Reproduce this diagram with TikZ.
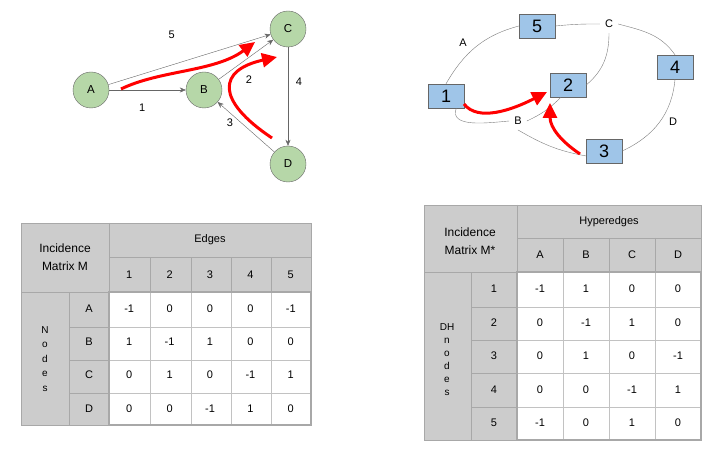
\documentclass[tikz,border=0pt]{standalone}
\usepackage{fontspec}
\setmainfont{Liberation Sans}
\usetikzlibrary{arrows.meta}

\definecolor{nodegreen}{HTML}{B6D7A8}
\definecolor{boxblue}{HTML}{9FC5E8}
\definecolor{edgegray}{HTML}{666666}
\definecolor{cellgray}{HTML}{CCCCCC}
\definecolor{gridgray}{HTML}{A8A8A8}

\tikzset{
  vertex/.style={circle, draw=edgegray, fill=nodegreen, minimum size=36pt, inner sep=0pt, font=\fontsize{11.5}{13}\selectfont},
  dhbox/.style={rectangle, draw=edgegray, fill=boxblue, minimum width=36pt, minimum height=24pt, inner sep=0pt, font=\fontsize{18}{20}\selectfont},
  edge/.style={draw=edgegray, -{Stealth[length=6pt,width=5pt]}},
  hyper/.style={draw=edgegray!85},
  flow/.style={red, line width=3pt, -{Triangle[length=15pt,width=14pt]}},
  lbl/.style={font=\fontsize{11}{13}\selectfont, inner sep=1pt},
  hlbl/.style={lbl, inner sep=5pt},
  cell/.style={font=\fontsize{11}{13}\selectfont, inner sep=0pt},
}

\begin{document}
\begin{tikzpicture}[x=1pt, y=-1pt]
  \useasboundingbox[fill=white] (0,0) rectangle (722,462);

  % Directed graph
  \node[vertex] (A) at (91,90) {A};
  \node[vertex] (B) at (204,90) {B};
  \node[vertex] (C) at (288,29) {C};
  \node[vertex] (D) at (288,164) {D};

  \draw[edge] (A) to node[lbl, pos=0.43, shift={(0,18)}] {1} (B);
  \draw[edge] (A) to node[lbl, pos=0.39, shift={(0,-30)}] {5} (C);
  \draw[edge] (B) to node[lbl, pos=0.5, shift={(3,20)}] {2} (C);
  \draw[edge] (C) to node[lbl, pos=0.35, shift={(11,0)}] {4} (D);
  \draw[edge] (D) to node[lbl, pos=0.5, shift={(-16,-4)}] {3} (B);

  % Paths through the graph
  \coordinate (pA) at (121,89);
  \coordinate (qA) at (255,42);
  \coordinate (pD) at (272,138);
  \coordinate (qD) at (277,57);
  \draw[flow] (pA) .. controls (160,70) and (215,72) .. (qA);
  \draw[flow] (pD) .. controls (215,100) and (218,70) .. (qD);

  % Dual hypergraph
  \node[dhbox] (h1) at (446,96) {1};
  \node[dhbox] (h5) at (537,26) {5};
  \node[dhbox] (h2) at (568,85) {2};
  \node[dhbox] (h4) at (675,67) {4};
  \node[dhbox] (h3) at (604,151) {3};

  \node[lbl] (eA) at (463,43) {A};
  \node[hlbl] (eB) at (518,121) {B};
  \node[hlbl] (eC) at (609,24) {C};
  \node[lbl] (eD) at (673,122) {D};

  \draw[hyper] (h1.north) to[out=60, in=195] (h5.west);
  \draw[hyper] (h5.east) to[bend left=3] (eC.west);
  \draw[hyper] (eC.east) to[out=-15, in=125] (h4.north);
  \draw[hyper] (eC.south) to[out=-90, in=40] (h2.east);
  \draw[hyper] (h1.-50) to[out=-110, in=185] (eB.west);
  \draw[hyper] (eB.east) to[bend right=10] (h2.-120);
  \draw[hyper] (eB.south) to[out=-30, in=170] (h3.195);
  \draw[hyper] (h4.south) to[out=-95, in=25] (h3.east);

  \coordinate (p1) at (464,104);
  \coordinate (q1) at (547,92);
  \coordinate (p3) at (580,154);
  \coordinate (q3) at (550,103);
  \draw[flow] (p1) .. controls (478,122) and (512,110) .. (q1);
  \draw[flow] (p3) .. controls (562,142) and (550,128) .. (q3);

  % Incidence matrix M
  \fill[cellgray] (21,223) rectangle (311,292);
  \fill[cellgray] (21,292) rectangle (109,425);
  \begin{scope}[gridgray]
    \draw (109,257) -- (311,257);
    \draw (21,292) -- (109,292);
    \foreach \y in {327,360,393} \draw (69,\y) -- (109,\y);
    \draw (69,292) -- (69,425);
    \draw (109,223) -- (109,425);
    \foreach \x in {150,191,231,271} \draw (\x,257) -- (\x,292);
  \end{scope}
  \draw[gridgray!70] \foreach \y in {327,360,393} {(109,\y) -- (311,\y)}
    \foreach \x in {150,191,231,271} {(\x,292) -- (\x,425)};
  \draw[gridgray, line width=1.5pt] (109,292) rectangle (311,425);
  \draw[gridgray] (21,223) rectangle (311,425);

  \node[cell, align=center, font=\fontsize{12}{18}\selectfont] (titleM) at (65,257) {Incidence\\Matrix M};
  \node[cell] (edges) at (210,240) {Edges};
  \node[cell, align=center, font=\fontsize{10}{14.5}\selectfont] (nodes) at (45,359) {N\\o\\d\\e\\s};
  \foreach \k [count=\i] in {1,...,5}
    \node[cell] (col\k) at ({109+40.4*(\i-0.5)},275) {\k};
  \foreach \r/\vals [count=\i] in {A/{-1,0,0,0,-1}, B/{1,-1,1,0,0}, C/{0,1,0,-1,1}, D/{0,0,-1,1,0}} {
    \node[cell] (row\r) at (89,{292+33.25*(\i-0.5)}) {\r};
    \foreach \v [count=\j] in \vals
      \node[cell] (m\r\j) at ({109+40.4*(\j-0.5)},{292+33.25*(\i-0.5)}) {\v};
  }

  % Incidence matrix M*
  \fill[cellgray] (424,205) rectangle (701,272);
  \fill[cellgray] (424,272) rectangle (517,440);
  \begin{scope}[gridgray]
    \draw (517,238) -- (701,238);
    \draw (424,272) -- (517,272);
    \foreach \y in {307,340,373,407} \draw (471,\y) -- (517,\y);
    \draw (471,272) -- (471,440);
    \draw (517,205) -- (517,440);
    \foreach \x in {563,609,655} \draw (\x,238) -- (\x,272);
  \end{scope}
  \draw[gridgray!70] \foreach \y in {307,340,373,407} {(517,\y) -- (701,\y)}
    \foreach \x in {563,609,655} {(\x,272) -- (\x,440)};
  \draw[gridgray, line width=1.5pt] (517,272) rectangle (701,440);
  \draw[gridgray] (424,205) rectangle (701,440);

  \node[cell, align=center, font=\fontsize{12}{18}\selectfont] (titleMs) at (470,241) {Incidence\\Matrix M*};
  \node[cell] (hyperedges) at (609,222) {Hyperedges};
  \node[cell, align=center, font=\fontsize{10}{13}\selectfont] (dhnodes) at (447,360) {DH\\n\\o\\d\\e\\s};
  \foreach \k [count=\i] in {A,B,C,D}
    \node[cell] (hcol\k) at ({517+46*(\i-0.5)},255) {\k};
  \foreach \r/\vals [count=\i] in {1/{-1,1,0,0}, 2/{0,-1,1,0}, 3/{0,1,0,-1}, 4/{0,0,-1,1}, 5/{-1,0,1,0}} {
    \node[cell] (hrow\r) at (494,{272+33.6*(\i-0.5)}) {\r};
    \foreach \v [count=\j] in \vals
      \node[cell] (n\r\j) at ({517+46*(\j-0.5)},{272+33.6*(\i-0.5)}) {\v};
  }
\end{tikzpicture}
\end{document}
